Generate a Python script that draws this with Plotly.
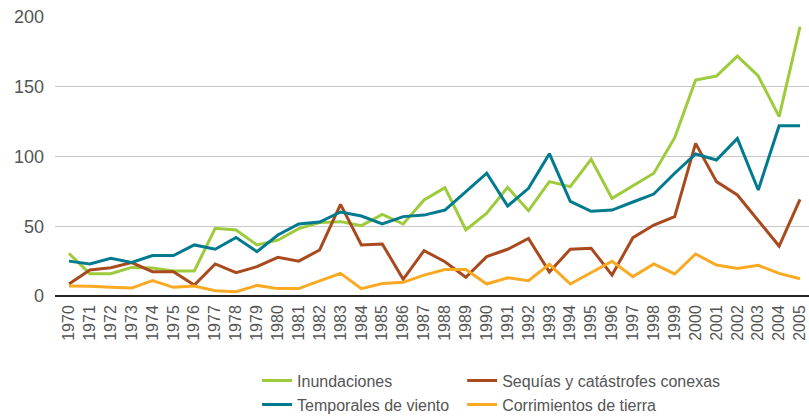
import plotly.graph_objects as go

years = list(range(1970, 2006))

inundaciones = [30.5, 16, 16, 20.5, 20, 18, 18, 48.5, 47.3, 36.6, 40,
                48.3, 52.6, 53.3, 50.4, 58.5, 51.6, 68.8, 77.7, 47.3, 59.3,
                77.9, 61.2, 82, 78.4, 98, 70, 78.9, 88, 113.5, 154.8,
                157.7, 172, 157.7, 128.6, 193]
sequias = [8.6, 18.6, 20.3, 24, 17.4, 17.4, 7.9, 23, 16.7, 21, 27.7,
           25, 33, 65.7, 36.6, 37.3, 12, 32.5, 24.6, 13.4, 28.2,
           33.5, 41.3, 17.2, 33.5, 34.2, 15, 41.8, 50.9, 56.9, 109.4,
           82, 72.4, 54, 35.8, 69.3]
temporales = [25, 23, 27, 24, 29, 29, 36.6, 33.5, 42, 31.8, 43.7,
              51.6, 53, 60.2, 57.3, 51.6, 56.9, 58, 61.6, 74.8, 88,
              64.5, 77.2, 102, 67.9, 60.7, 61.6, 67.4, 73.1, 88, 101.8,
              97.5, 113, 76, 122, 122]
corrimientos = [7.2, 7, 6.2, 5.7, 11, 6.2, 7.2, 3.8, 3.1, 7.6, 5.3,
                5.3, 10.8, 16.2, 5.3, 9, 9.8, 15, 19, 19, 8.6,
                13.1, 11, 22.7, 8.6, 16.7, 24.9, 13.9, 23, 15.8, 30.1,
                22.2, 19.8, 22, 16.2, 12.4]

# name, values, colour, which legend column
series = [
    ("Inundaciones", inundaciones, "#9dcb3c", "legend"),
    ("Sequías y catástrofes conexas", sequias, "#a84a1e", "legend2"),
    ("Temporales de viento", temporales, "#007a8e", "legend"),
    ("Corrimientos de tierra", corrimientos, "#f9aa22", "legend2"),
]

fig = go.Figure()
for name, vals, col, leg in series:
    fig.add_trace(go.Scatter(x=years, y=vals, mode="lines", name=name, legend=leg,
                             line=dict(color=col, width=3)))

legfont = dict(size=16, color="#555555")
fig.update_layout(
    width=809, height=419,
    margin=dict(l=55, r=0, t=17, b=123),
    paper_bgcolor="white", plot_bgcolor="white",
    font=dict(family="Liberation Sans, Arial, sans-serif", size=16, color="#555555"),
    showlegend=True,
    legend=dict(x=0.268, xanchor="left", y=0.132, yanchor="top", yref="container",
                traceorder="normal", font=legfont, bgcolor="rgba(0,0,0,0)"),
    legend2=dict(x=0.54, xanchor="left", y=0.132, yanchor="top", yref="container",
                 traceorder="normal", font=legfont, bgcolor="rgba(0,0,0,0)"),
)
fig.update_xaxes(range=[1969.33, 2005.43], tickmode="array", tickvals=years,
                 ticktext=[str(y) for y in years], tickangle=-90,
                 showgrid=False, zeroline=False, showline=False, automargin=False,
                 ticklabelstandoff=5,
                 tickfont=dict(size=16, color="#555555"), ticks="")
fig.update_yaxes(range=[0, 200], tickvals=[0, 50, 100, 150, 200],
                 showgrid=True, gridcolor="#c8c8c8", gridwidth=1,
                 zeroline=True, zerolinecolor="#222222", zerolinewidth=1.5,
                 showline=False, automargin=False, ticklabelstandoff=10,
                 tickfont=dict(size=18, color="#555555"), ticks="")
# page body has an 8px default margin; drop it so the figure fills the window
fig.write_html("out.html", config={"displayModeBar": False},
               post_script="document.body.style.margin='0';")
